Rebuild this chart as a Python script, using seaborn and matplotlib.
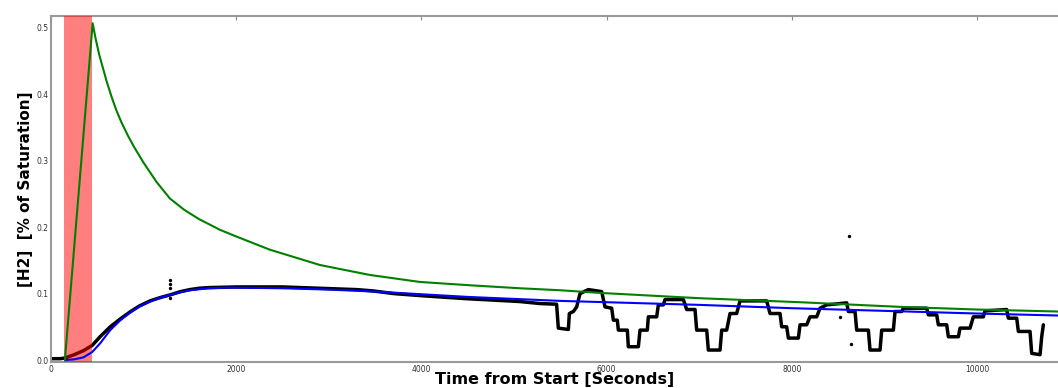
import matplotlib
matplotlib.use("Agg")
import matplotlib.pyplot as plt
import seaborn as sns
import pandas as pd

# measured H2 trace (black)
time_s = [0, 100, 150, 250, 350, 445, 530, 640, 750, 850, 950, 1070, 1180,
          1285, 1400, 1500, 1600, 1700, 2000, 2500, 2900, 3300, 3480, 3700,
          3985, 4300, 4525, 4800, 5065, 5281, 5460, 5479, 5587, 5598, 5641,
          5677, 5713, 5803, 5947, 5983, 6055, 6073, 6116, 6127, 6224, 6235,
          6343, 6361, 6440, 6451, 6541, 6559, 6613, 6631, 6829, 6865, 6955,
          6973, 7081, 7099, 7225, 7243, 7297, 7333, 7405, 7441, 7729, 7765,
          7873, 7891, 7945, 7963, 8071, 8089, 8161, 8197, 8269, 8305, 8377,
          8593, 8611, 8683, 8701, 8827, 8845, 8953, 8971, 9097, 9115, 9187,
          9205, 9457, 9475, 9565, 9583, 9673, 9691, 9799, 9817, 9925, 9961,
          10069, 10087, 10321, 10339, 10429, 10447, 10573, 10591, 10681,
          10699, 10717]
h2_measured = [0.002, 0.002, 0.003, 0.008, 0.014, 0.022, 0.035, 0.050, 0.062,
               0.072, 0.081, 0.089, 0.094, 0.098, 0.103, 0.106, 0.108, 0.109,
               0.110, 0.110, 0.108, 0.106, 0.104, 0.100, 0.097, 0.094, 0.092,
               0.090, 0.088, 0.085, 0.084, 0.048, 0.046, 0.070, 0.073, 0.080,
               0.100, 0.106, 0.103, 0.080, 0.078, 0.060, 0.060, 0.045, 0.045,
               0.020, 0.020, 0.045, 0.045, 0.065, 0.065, 0.083, 0.083, 0.091,
               0.091, 0.076, 0.076, 0.045, 0.045, 0.015, 0.015, 0.045, 0.045,
               0.070, 0.070, 0.089, 0.089, 0.070, 0.070, 0.050, 0.050, 0.033,
               0.033, 0.053, 0.053, 0.065, 0.065, 0.078, 0.083, 0.086, 0.073,
               0.073, 0.045, 0.045, 0.015, 0.015, 0.045, 0.045, 0.073, 0.073,
               0.078, 0.078, 0.068, 0.068, 0.053, 0.053, 0.035, 0.035, 0.048,
               0.048, 0.065, 0.065, 0.074, 0.076, 0.063, 0.063, 0.043, 0.043,
               0.010, 0.008, 0.035, 0.053]

# stray points
outlier_t = [1290, 1290, 1290, 1290, 8520, 8618, 8640]
outlier_h2 = [0.121, 0.115, 0.108, 0.094, 0.065, 0.187, 0.024]

# model fit (blue)
fit_t = [150, 250, 350, 445, 530, 640, 750, 850, 960, 1070, 1180, 1285,
         1400, 1500, 1700, 1930, 2500, 3000, 3500, 4000, 4500, 5000, 5500,
         6000, 7000, 8000, 9000, 10000, 10875]
fit_h2 = [0.0, 0.001, 0.004, 0.012, 0.025, 0.045, 0.060, 0.071, 0.081, 0.088,
          0.094, 0.098, 0.102, 0.105, 0.108, 0.109, 0.108, 0.106, 0.103,
          0.099, 0.095, 0.092, 0.089, 0.087, 0.083, 0.078, 0.074, 0.070, 0.067]

# dosing curve (green)
dose_t = [150, 450, 480, 520, 560, 600, 650, 700, 760, 830, 900, 1000, 1140,
          1285, 1440, 1600, 1825, 2000, 2365, 2905, 3445, 3985, 4525, 5065,
          5500, 5930, 7010, 8090, 9170, 10000, 10875]
dose_h2 = [0.0, 0.507, 0.485, 0.46, 0.44, 0.42, 0.398, 0.378, 0.358, 0.338,
           0.32, 0.297, 0.268, 0.243, 0.226, 0.212, 0.196, 0.186, 0.166,
           0.143, 0.128, 0.1175, 0.1125, 0.108, 0.105, 0.101, 0.093, 0.087,
           0.080, 0.076, 0.073]

# exposure window
span_start, span_end = 140, 445

measured = pd.DataFrame({"t": time_s, "h2": h2_measured})
fit = pd.DataFrame({"t": fit_t, "h2": fit_h2})
dose = pd.DataFrame({"t": dose_t, "h2": dose_h2})
outliers = pd.DataFrame({"t": outlier_t, "h2": outlier_h2})

sns.set_style("white")
plt.rcParams["font.family"] = ["DejaVu Sans"]

fig = plt.figure(figsize=(10.58, 3.88), dpi=100)
ax = fig.add_axes([0.0482, 0.067, 0.9518, 0.892])

sns.lineplot(data=measured, x="t", y="h2", ax=ax, color="black",
             linewidth=2.5, sort=False, estimator=None, zorder=2)
sns.scatterplot(data=outliers, x="t", y="h2", ax=ax, color="black",
                s=6, linewidth=0, zorder=2)
ax.axvspan(span_start, span_end, color="red", alpha=0.5, lw=0, zorder=3)
sns.lineplot(data=fit, x="t", y="h2", ax=ax, color="blue",
             linewidth=1.5, sort=False, estimator=None, zorder=4)
sns.lineplot(data=dose, x="t", y="h2", ax=ax, color="green",
             linewidth=1.5, sort=False, estimator=None, zorder=5)

ax.set_xlim(0, 10875)
ax.set_ylim(-0.003, 0.518)
ax.set_xticks([0, 2000, 4000, 6000, 8000, 10000])
ax.set_yticks([0.0, 0.1, 0.2, 0.3, 0.4, 0.5])
ax.tick_params(direction="in", length=3, width=0.8, labelsize=5.5,
               labelcolor="#333333", color="#888888", top=True, pad=2)

for side in ["left", "top", "bottom"]:
    ax.spines[side].set_color("#999999")
    ax.spines[side].set_linewidth(1.5)
ax.spines["right"].set_visible(False)

ax.set_xlabel("Time from Start [Seconds]", fontsize=11.5, fontweight="bold",
              va="baseline", color="black")
ax.xaxis.set_label_coords(0.5, -0.0636)
ax.set_ylabel("[H2]  [% of Saturation]", fontsize=11, fontweight="bold",
              color="black")
ax.yaxis.set_label_coords(-0.018, 0.5)

plt.savefig("out.png", dpi=100)
